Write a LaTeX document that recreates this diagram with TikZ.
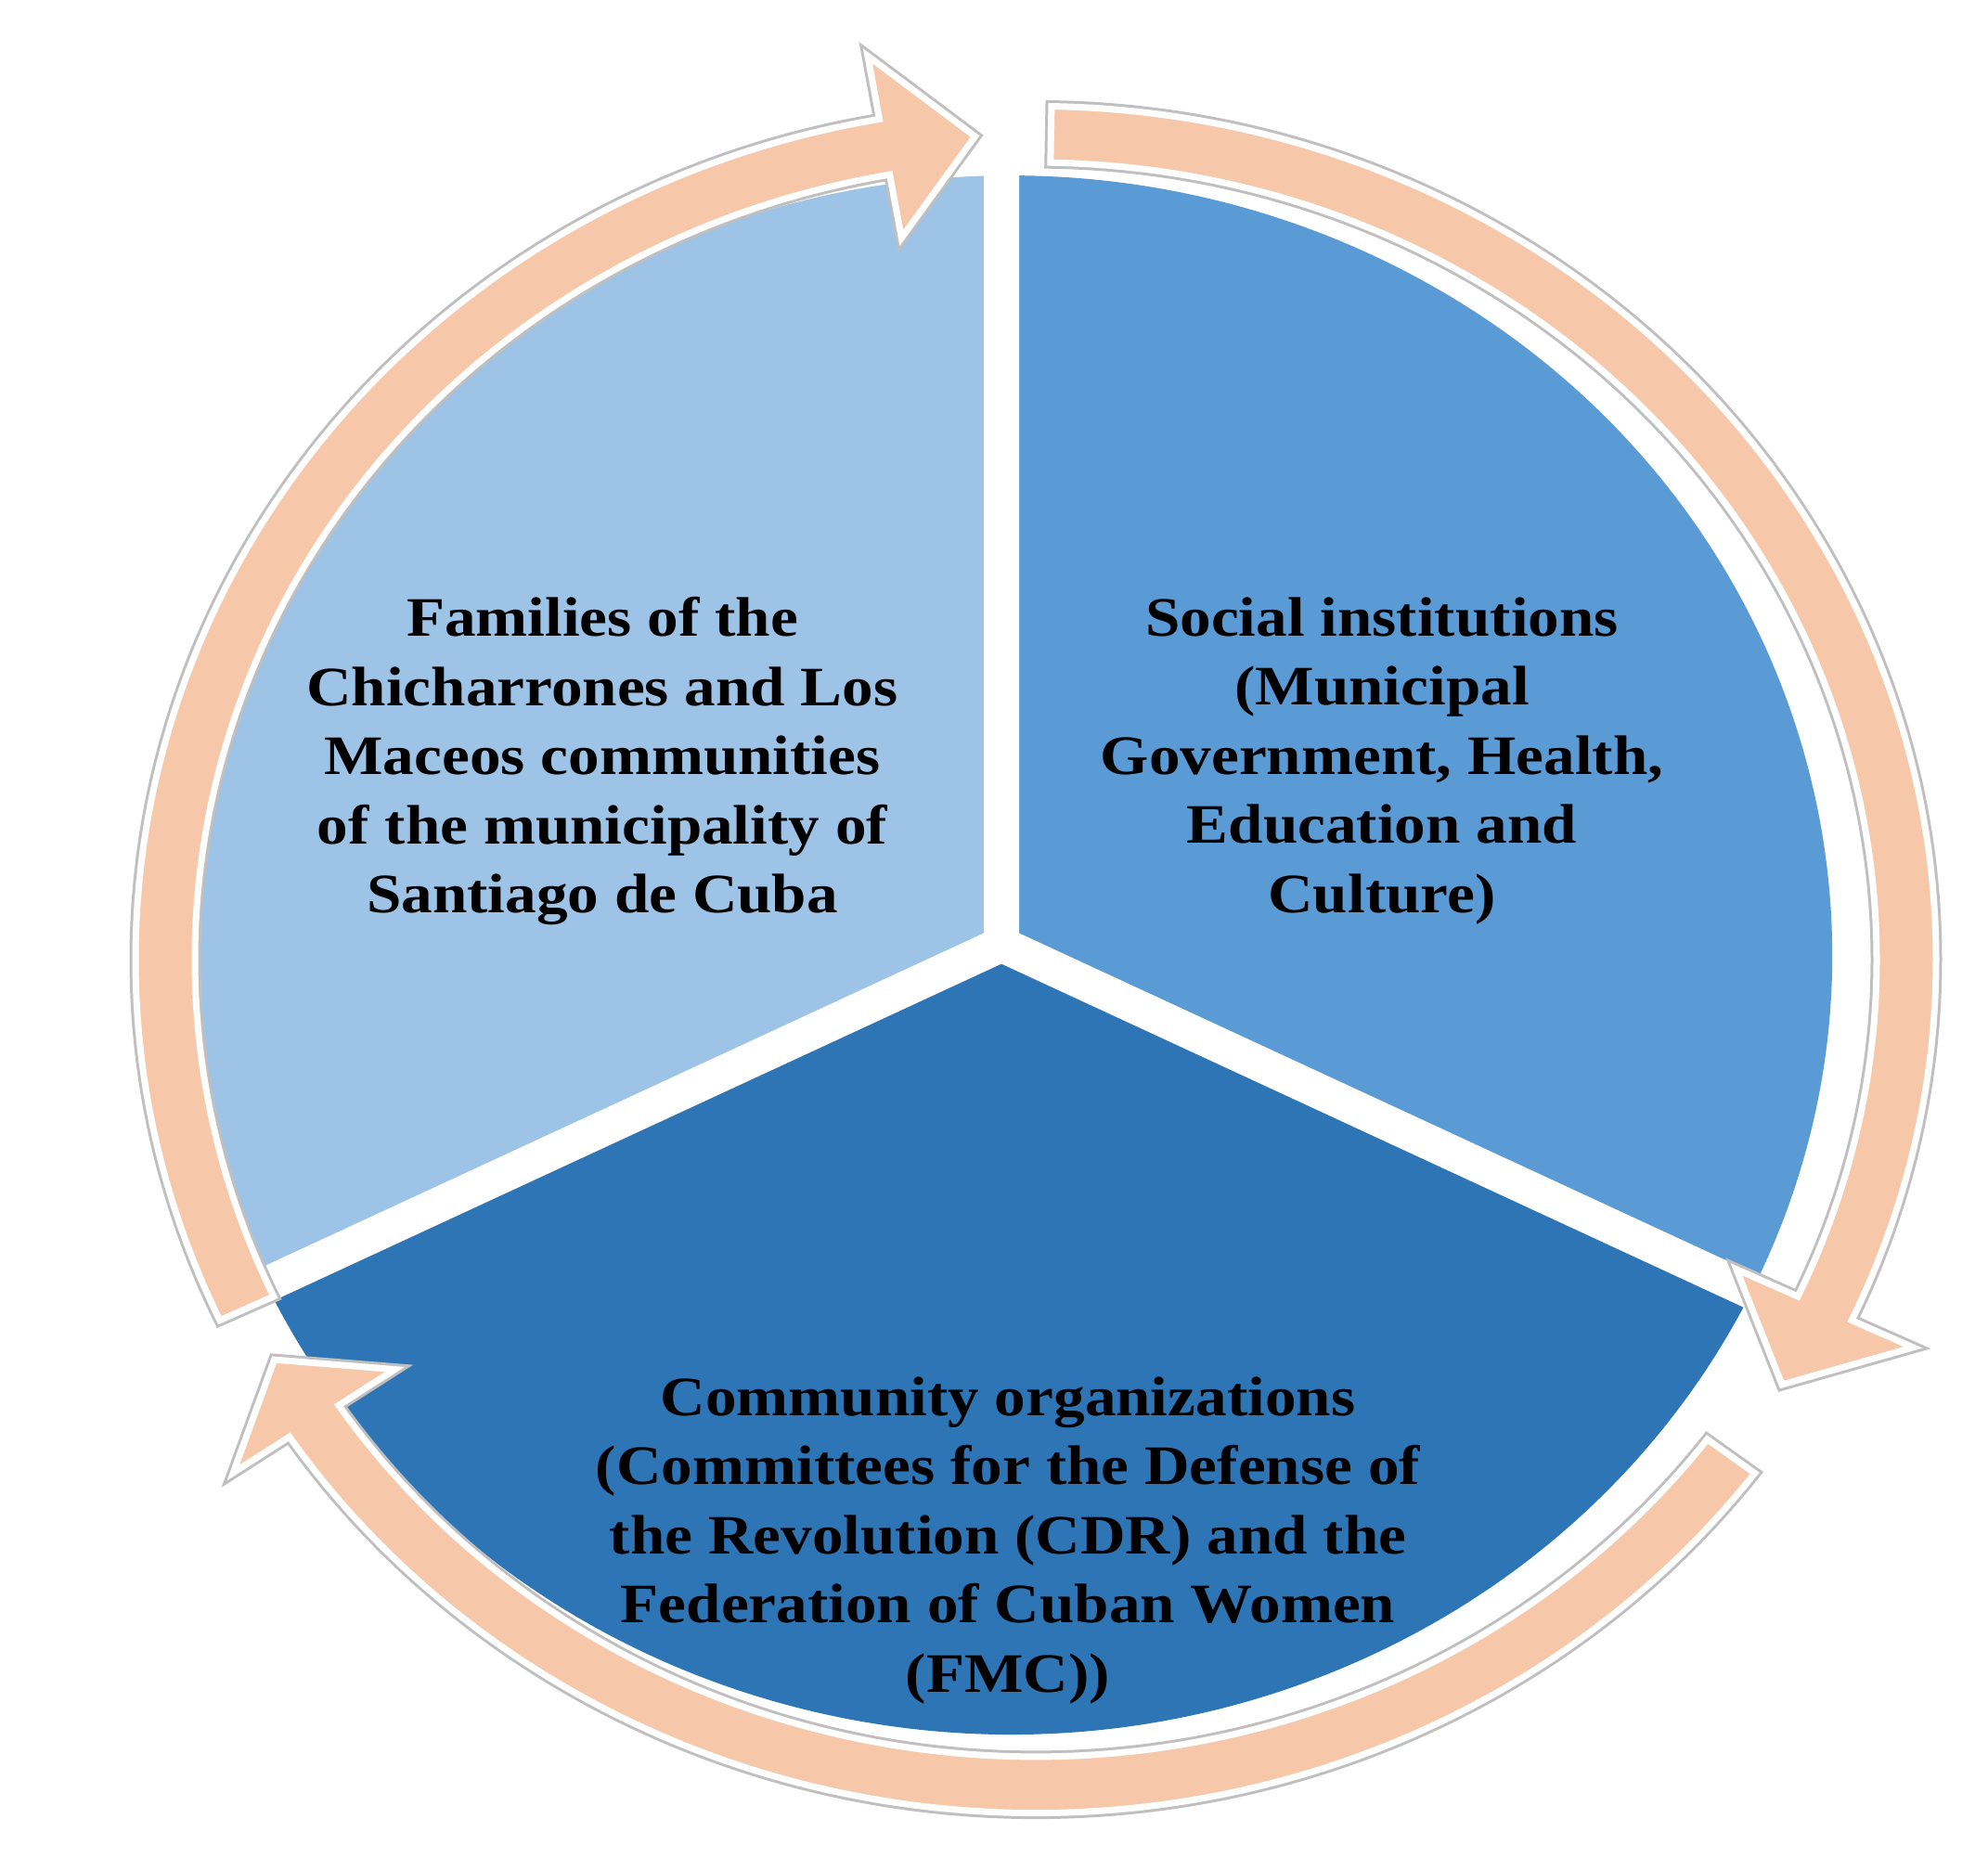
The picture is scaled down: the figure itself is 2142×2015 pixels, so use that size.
\documentclass[tikz,border=0pt]{standalone}
\usepackage{fontspec}
\setmainfont{Liberation Serif}[FakeStretch=1.12]
\usetikzlibrary{calc}
\begin{document}
\begin{tikzpicture}[x=1pt,y=1pt,
  ringarrow/.style={fill=ringc, draw=white, line width=7pt, line join=miter,
    preaction={draw=black!25, line width=13pt, line join=miter}},
  lbl/.style={align=center, font=\bfseries\fontsize{60}{74.5}\selectfont, text=black, inner sep=0pt}]
\definecolor{secA}{HTML}{9DC3E6}
\definecolor{secB}{HTML}{5B9BD5}
\definecolor{secC}{HTML}{2E75B6}
\definecolor{ringc}{HTML}{F6C7A8}
\useasboundingbox (0,0) rectangle (2142,-2015);
\fill[white] (0,0) rectangle (2142,-2015);
\begin{scope}[shift={(1089,-1029)}, yscale=0.949]
  \coordinate (J) at (-10,12);
  \fill[secA] (0,0) -- (90:885) arc[start angle=90,end angle=206,radius=885] -- cycle;
  \fill[secB] (0,0) -- (-26:885) arc[start angle=-26,end angle=90,radius=885] -- cycle;
  \fill[secC] (0,0) -- (206:885) arc[start angle=206,end angle=334,radius=885] -- cycle;
  \fill[secA] (J) -- (90:885) -- (150:885) -- (206:885) -- cycle;
  \fill[secB] (J) -- (90:885) -- (30:885) -- (-26:885) -- cycle;
  \fill[secC] (J) -- (206:885) -- (270:885) -- (334:885) -- cycle;
  \coordinate (g1) at ($(J)+(90:1000)$);
  \coordinate (g2) at ($(J)+(206:1000)$);
  \coordinate (g3) at ($(J)+(334:1000)$);
  \draw[white, line width=38pt] (J) -- (g1) (J) -- (g2) (J) -- (g3);
\end{scope}
\begin{scope}[shift={(1116,-1034)}, yscale=0.948]
  \draw[ringarrow] (205:970) arc[start angle=205,end angle=100,radius=970] -- (100:1043) -- (94:938) -- (100:833) -- (100:906) arc[start angle=100,end angle=205,radius=906] -- cycle;
  \draw[ringarrow] (89:970) arc[start angle=89,end angle=-25,radius=970] -- (-25:1043) -- (-31:938) -- (-25:833) -- (-25:906) arc[start angle=-25,end angle=89,radius=906] -- cycle;
  \draw[ringarrow] (-37:970) arc[start angle=-37,end angle=-146,radius=970] -- (-146:1043) -- (-151:938) -- (-146:833) -- (-146:906) arc[start angle=-146,end angle=-37,radius=906] -- cycle;
\end{scope}
\node[lbl] (fam) at (649,-820) {Families of the\\Chicharrones and Los\\Maceos communities\\of the municipality of\\Santiago de Cuba};
\node[lbl] (soc) at (1489,-820) {Social institutions\\(Municipal\\Government, Health,\\Education and\\Culture)};
\node[lbl] (com) at (1086,-1660) {Community organizations\\(Committees for the Defense of\\the Revolution (CDR) and the\\Federation of Cuban Women\\(FMC))};
\end{tikzpicture}
\end{document}
